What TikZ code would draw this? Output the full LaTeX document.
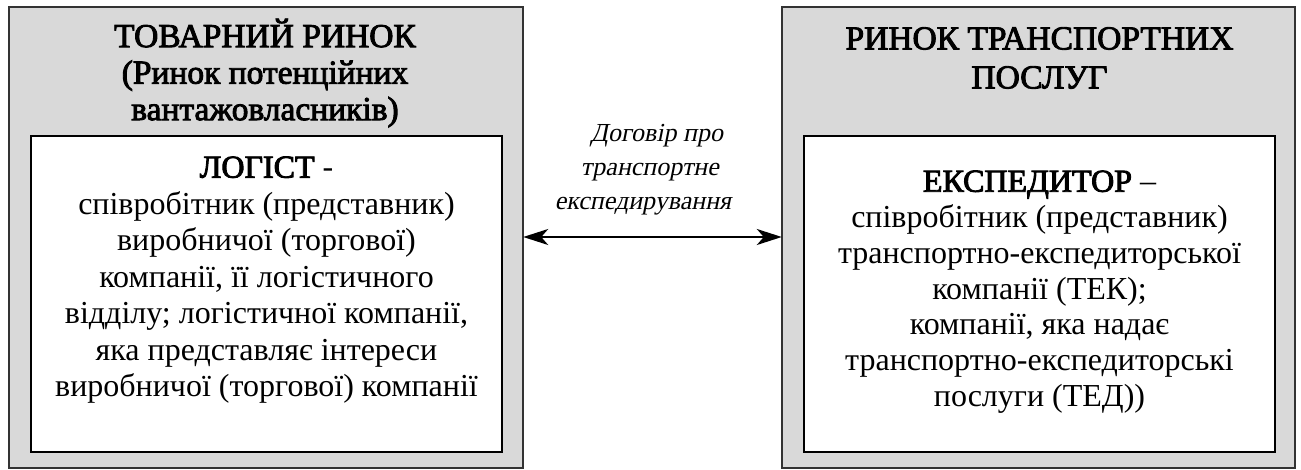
\documentclass[tikz,border=0pt]{standalone}
\usepackage{fontspec}
\newfontfamily\timesf{Liberation Serif}
\newcommand{\boldon}{\special{pdf:code 2 Tr 0.9 w}}
\newcommand{\boldoff}{\special{pdf:code 0 Tr}}
\usetikzlibrary{arrows.meta}
\definecolor{boxgray}{HTML}{D9D9D9}
\definecolor{edgegray}{HTML}{333333}
\tikzset{
  outerbox/.style={draw=edgegray, line width=1.2pt, fill=boxgray},
  innerbox/.style={draw=black, line width=2pt, fill=white},
  lefttitle/.style={align=center, font=\timesf\fontsize{33.5}{36.5}\selectfont},
  righttitle/.style={align=center, font=\timesf\fontsize{33.5}{39}\selectfont},
  bodytext/.style={align=center, font=\timesf\fontsize{32}{36.5}\selectfont},
  labeltext/.style={align=center, font=\timesf\fontsize{26}{34.2}\selectfont},
  link/.style={line width=2pt, {Stealth[length=25pt,width=16pt,inset=7pt]}-{Stealth[length=25pt,width=16pt,inset=7pt]}}
}
\begin{document}
\begin{tikzpicture}[x=1pt,y=-1pt]
\useasboundingbox (0,0) rectangle (1301,470);
% outer boxes
\draw[outerbox] (9,7) rectangle (523,468);
\node[inner sep=0, minimum width=514pt, minimum height=461pt] (L) at (266,237.5) {};
\draw[outerbox] (782,7) rectangle (1295,468);
\node[inner sep=0, minimum width=513pt, minimum height=461pt] (R) at (1038.5,237.5) {};
% inner boxes
\draw[innerbox] (31,136) rectangle (502,452);
\draw[innerbox] (804,136) rectangle (1275,452);
% titles
\node[lefttitle] (Ltitle) at (265,73) {\boldon ТОВАРНИЙ РИНОК\\(Ринок потенційних\\вантажовласників)\boldoff};
\node[righttitle] (Rtitle) at (1039.5,58) {\boldon РИНОК ТРАНСПОРТНИХ\\ПОСЛУГ\boldoff};
% bodies
\node[bodytext] (Lbody) at (266.5,280) {\boldon ЛОГІСТ\boldoff{} -\\співробітник (представник)\\виробничої (торгової)\\компанії, її логістичного\\відділу; логістичної компанії,\\яка представляє інтереси\\виробничої (торгової) компанії};
\node[bodytext, font=\timesf\fontsize{32}{35.8}\selectfont] (Rbody) at (1039.5,292) {\boldon ЕКСПЕДИТОР\boldoff{} –\\співробітник (представник)\\транспортно-експедиторської\\компанії (ТЕК);\\компанії, яка надає\\транспортно-експедиторські\\послуги (ТЕД))};
% connector
\coordinate (a) at (L.east |- 0,237);
\coordinate (b) at (R.west |- 0,237);
\draw[link] (a) -- (b);
\begin{scope}[shift={(651,169.6)}, xslant=0.2]
\node[labeltext, transform shape] (lab) at (0,0) {Договір про\\транспортне\\експедирування};
\end{scope}
\end{tikzpicture}
\end{document}
